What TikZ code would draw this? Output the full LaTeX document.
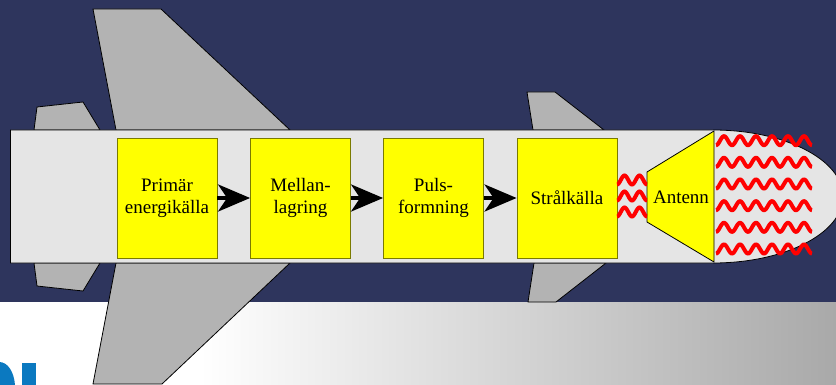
\documentclass[tikz,border=0pt]{standalone}
\usepackage{fontspec}
\setmainfont{Liberation Serif}
\newfontfamily\boxfont{Liberation Serif}
\usetikzlibrary{arrows.meta}
\definecolor{navybg}{HTML}{2E355D}
\definecolor{winggray}{HTML}{B3B3B3}
\definecolor{bodygray}{HTML}{E5E5E5}
\definecolor{boxedge}{HTML}{7A7A00}
\definecolor{boxfill}{HTML}{FFFF00}
\definecolor{wavered}{HTML}{FF0000}
\definecolor{logoblue}{HTML}{0B79C0}
\definecolor{shadeend}{HTML}{A9A9A9}
\begin{document}
\begin{tikzpicture}[x=1pt,y=-1pt,
  panel/.style={draw=black, line width=0.8pt, line join=miter},
  wing/.style={panel, fill=winggray},
  hull/.style={panel, fill=bodygray},
  unit/.style={draw=boxedge, fill=boxfill, line width=0.8pt,
    minimum width=100pt, minimum height=120pt, inner sep=0pt,
    align=center, font=\boxfont\fontsize{19}{22}\selectfont},
  label/.style={inner sep=0pt, font=\boxfont\fontsize{19}{22}\selectfont},
  flow/.style={line width=4pt, -{Stealth[length={32pt 0 0}, width={27pt 0 0}, inset={9pt 0}]}},
  wave/.style={draw=wavered, line width=4pt}
]
\useasboundingbox (0,0) rectangle (836,385);

% backdrop: dark band above, light gradient strip below
\fill[navybg] (0,0) rectangle (836,302);
\fill[white] (0,302) rectangle (201,385);
\shade[left color=white, right color=shadeend] (200,302) rectangle (836,385);

% logo fragment
\fill[logoblue] (-1,385) -- (-1,362) .. controls (8,362) and (14,372) .. (15,385) -- cycle;
\fill[logoblue] (22,363) rectangle (36,385);

% wings and fins
\draw[wing] (116,130) -- (93,9) -- (161,9) -- (290,130) -- cycle;
\draw[wing] (116,263) -- (93,384) -- (162,384) -- (290,263) -- cycle;
\draw[wing] (34,130) -- (37,107) -- (83,102) -- (100,130) -- cycle;
\draw[wing] (34,263) -- (37,286) -- (83,291) -- (100,263) -- cycle;
\draw[wing] (533,130) -- (527,92) -- (555,92) -- (604,130) -- cycle;
\draw[wing] (534,263) -- (528,302) -- (556,302) -- (606,263) -- cycle;

% fuselage with rounded nose
\draw[hull] (713,263) arc[start angle=90, end angle=-90, x radius=130, y radius=66.5]
  -- (10.5,130) -- (10.5,263) -- cycle;

% signal chain
\node[unit] (prim)  at (167,198)   {Primär\\energikälla};
\node[unit] (mell)  at (300.5,198) {Mellan-\\lagring};
\node[unit] (puls)  at (433.5,198) {Puls-\\formning};
\node[unit] (stral) at (567,198)   {Strålkälla};

% horn antenna
\draw[fill=boxfill, draw=black, line width=0.8pt] (647,172) -- (714,131) -- (714,262) -- (647,222) -- cycle;
\node[label] (ant) at (681,197) {Antenn};

% feed waves between source and antenna
\foreach \yc in {180,196,212}
  \draw[wave] plot[domain=0:30, samples=61, smooth] ({617+\x},{\yc+4.5*cos(24*\x)});

% radiated waves
\foreach \yc in {140.7,162.3,184,205.7,227.3,249}
  \draw[wave] plot[domain=0:96, samples=161, smooth] ({716+\x},{\yc+4.5*cos(22.5*\x)});

% flow arrows
\draw[flow] (prim.east) -- (mell.west);
\draw[flow] (mell.east) -- (puls.west);
\draw[flow] (puls.east) -- (stral.west);
\end{tikzpicture}
\end{document}
